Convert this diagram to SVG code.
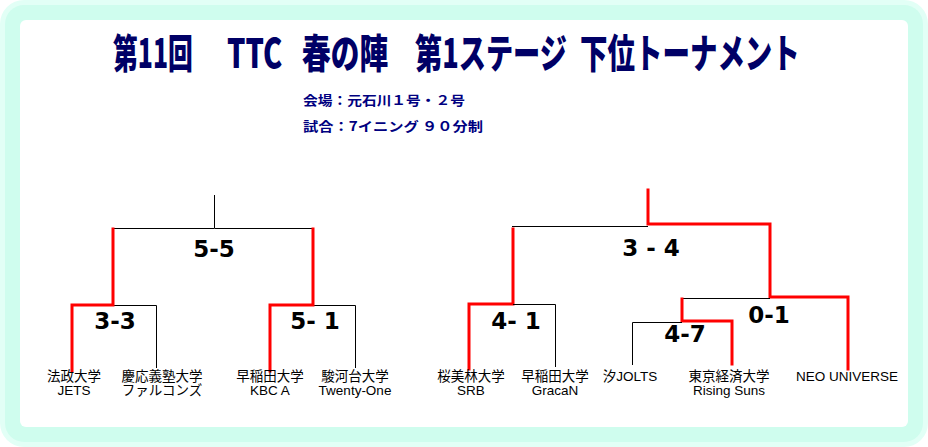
<svg xmlns="http://www.w3.org/2000/svg" width="928" height="447" viewBox="0 0 928 447">
<style>
.title{font-family:"Noto Sans CJK JP","Liberation Sans",sans-serif;font-weight:900;font-size:40px;fill:#000066}
.sub{font-family:"Noto Sans CJK JP","Liberation Sans",sans-serif;font-weight:700;font-size:13px;fill:#000080}
.score{font-family:"DejaVu Sans",Verdana,sans-serif;font-weight:700;font-size:23px;fill:#000;text-anchor:middle}
.name{font-family:"Liberation Sans","Noto Sans CJK JP",sans-serif;font-size:13.5px;fill:#000;text-anchor:middle}
.blk{stroke:#000;stroke-width:1;fill:none}
.red{stroke:#ff0000;stroke-width:3;fill:none;stroke-linecap:square}
</style>
<g id="frame">
<rect x="0" y="0" width="928" height="447" rx="24" fill="#e2fff6"/>
<rect x="5" y="5" width="918" height="437" rx="19" fill="#cffdee"/>
<rect x="20" y="20" width="888" height="407" rx="6" fill="#ffffff"/>
</g>
<g id="title">
<text class="title" transform="translate(113,68) scale(0.7,1)" textLength="114" lengthAdjust="spacingAndGlyphs">第11回</text>
<text class="title" transform="translate(227,68) scale(0.7,1)" textLength="79" lengthAdjust="spacingAndGlyphs">TTC</text>
<text class="title" transform="translate(302,68) scale(0.7,1)" textLength="123" lengthAdjust="spacingAndGlyphs">春の陣</text>
<text class="title" transform="translate(415,68) scale(0.7,1)" textLength="217" lengthAdjust="spacingAndGlyphs">第1ステージ</text>
<text class="title" transform="translate(580,68) scale(0.7,1)" textLength="314" lengthAdjust="spacingAndGlyphs">下位トーナメント</text>
</g>
<g id="info">
<text class="sub" x="303" y="105" textLength="162" lengthAdjust="spacingAndGlyphs">会場：元石川１号・２号</text>
<text class="sub" x="303" y="131" textLength="180" lengthAdjust="spacingAndGlyphs">試合：7イニング ９０分制</text>
</g>
<g id="connectors">
<path class="blk" d="M214.5,195 V228.5 H313 M113,228.5 H214"/>
<path class="blk" d="M113,305.5 H156.5 V368"/>
<path class="blk" d="M313,305.5 H355.5 V368"/>
<path class="red" d="M113,229 V305 H72 V371"/>
<path class="red" d="M313,229 V305 H270 V371"/>
<path class="blk" d="M512,226.5 H648"/>
<path class="red" d="M648,190 V224 H770 V297 H848 V369"/>
<path class="red" d="M513,229 V304 H469 V369"/>
<path class="blk" d="M513,304.5 H555.5 V367"/>
<path class="blk" d="M682,298.5 H770"/>
<path class="red" d="M682,299 V321 H732 V364"/>
<path class="blk" d="M682,322.5 H632.5 V365"/>
</g>
<g id="scores">
<text id="s-55" class="score" x="214" y="257">5-5</text>
<text id="s-33" class="score" x="115" y="329">3-3</text>
<text id="s-51" class="score" x="315" y="329" xml:space="preserve">5- 1</text>
<text id="s-34" class="score" x="651" y="256" xml:space="preserve">3 - 4</text>
<text id="s-41" class="score" x="516" y="329" xml:space="preserve">4- 1</text>
<text id="s-01" class="score" x="769" y="323">0-1</text>
<text id="s-47" class="score" x="685" y="342">4-7</text>
</g>
<g id="team-hosei"><text class="name" x="74" y="381">法政大学</text><text class="name" x="74" y="395">JETS</text></g>
<g id="team-keio"><text class="name" x="162" y="381">慶応義塾大学</text><text class="name" x="162" y="395">ファルコンズ</text></g>
<g id="team-waseda-kbc"><text class="name" x="270" y="381">早稲田大学</text><text class="name" x="270" y="395">KBC A</text></g>
<g id="team-sundai"><text class="name" x="355" y="381">駿河台大学</text><text class="name" x="355" y="395">Twenty-One</text></g>
<g id="team-obirin"><text class="name" x="471" y="381">桜美林大学</text><text class="name" x="471" y="395">SRB</text></g>
<g id="team-waseda-gracan"><text class="name" x="555" y="381">早稲田大学</text><text class="name" x="555" y="395">GracaN</text></g>
<g id="team-jolts"><text class="name" x="630" y="381">汐JOLTS</text></g>
<g id="team-tokyokeizai"><text class="name" x="729" y="381">東京経済大学</text><text class="name" x="729" y="395">Rising Suns</text></g>
<g id="team-neo"><text class="name" x="847" y="381">NEO UNIVERSE</text></g>
</svg>
